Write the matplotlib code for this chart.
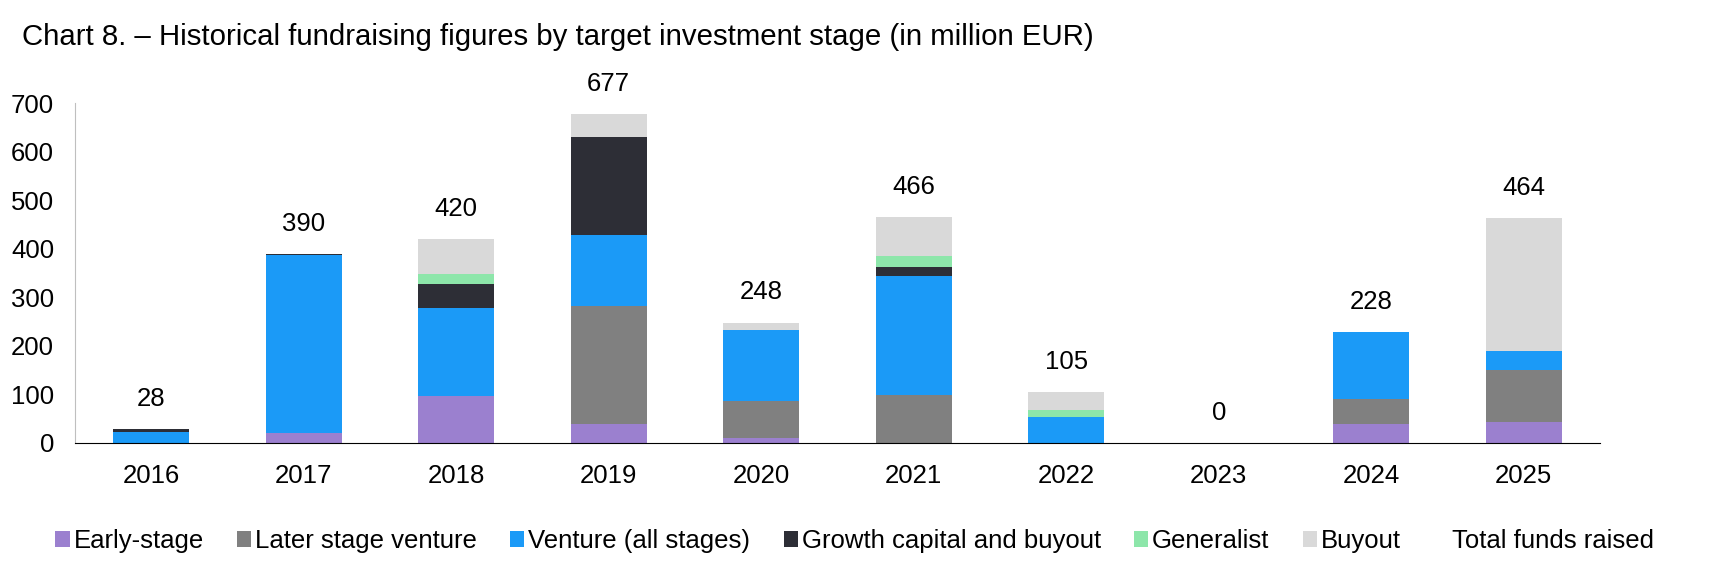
import matplotlib.pyplot as plt
from matplotlib.patches import Patch
import numpy as np

plt.rcParams['font.family'] = ['Liberation Sans', 'DejaVu Sans']

years = ['2016', '2017', '2018', '2019', '2020', '2021', '2022', '2023', '2024', '2025']
early_stage = [0, 20, 96, 39, 10, 0, 0, 0, 39, 43]
later_stage = [0, 0, 0, 243, 77, 98, 0, 0, 52, 108]
venture_all = [23, 368, 181, 146, 145, 246, 53, 0, 137, 38]
growth_buyout = [5, 2, 50, 202, 0, 18, 0, 0, 0, 0]
generalist = [0, 0, 21, 0, 0, 24, 14, 0, 0, 0]
buyout = [0, 0, 72, 47, 16, 80, 38, 0, 0, 275]
totals = [28, 390, 420, 677, 248, 466, 105, 0, 228, 464]

series = [
    ('Early-stage', early_stage, '#9B80CF'),
    ('Later stage venture', later_stage, '#808080'),
    ('Venture (all stages)', venture_all, '#1B9AF7'),
    ('Growth capital and buyout', growth_buyout, '#2D2E36'),
    ('Generalist', generalist, '#8DE6AA'),
    ('Buyout', buyout, '#D9D9D9'),
]

fig = plt.figure(figsize=(17.27, 5.67), dpi=100)
ax = fig.add_axes([0.0434, 0.2187, 0.8831, 0.5996])

x = np.arange(len(years))
bottom = np.zeros(len(years))
handles = []
for name, vals, col in series:
    ax.bar(x, vals, 0.5, bottom=bottom, color=col, linewidth=0)
    bottom += np.array(vals)
    handles.append(Patch(facecolor=col, edgecolor='none', label=name))
handles.append(Patch(facecolor='none', edgecolor='none', label='Total funds raised'))

# totals above the bars
for xi, t in zip(x, totals):
    ax.annotate(str(t), (xi, t), xytext=(0, 13), textcoords='offset points',
                ha='center', va='bottom', fontsize=18.5)

ax.set_xlim(-0.5, len(years) - 0.5)
ax.set_ylim(0, 700)
ax.set_yticks(range(0, 701, 100))
ax.set_xticks(x)
ax.set_xticklabels(years)
ax.tick_params(axis='both', length=0, labelsize=18.5)
ax.tick_params(axis='y', pad=15)
ax.tick_params(axis='x', pad=15)

ax.spines['top'].set_visible(False)
ax.spines['right'].set_visible(False)
ax.spines['left'].set_color('#BFBFBF')
ax.spines['bottom'].set_color('black')

fig.text(0.013, 0.935, 'Chart 8. \u2013 Historical fundraising figures by target investment stage (in million EUR)',
         fontsize=21.2, va='center', ha='left')

fig.legend(handles=handles, loc='center', bbox_to_anchor=(0.495, 0.046), ncol=7,
           frameon=False, fontsize=18.5, handlelength=0.55, handleheight=0.55,
           handletextpad=0.15, columnspacing=1.3)

fig.savefig('out.png', dpi=100)
